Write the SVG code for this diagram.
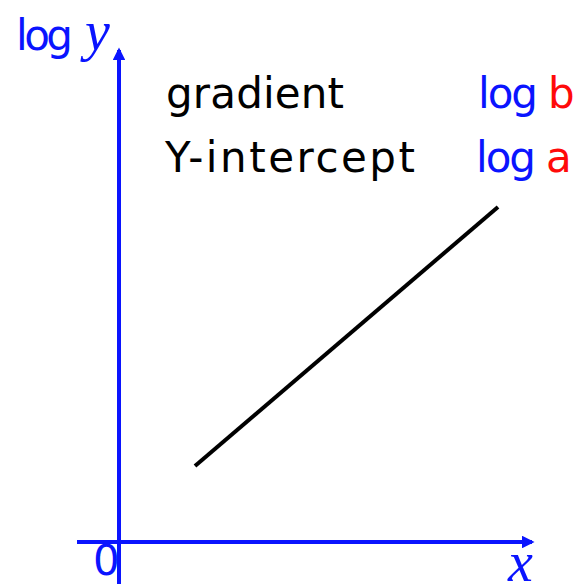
<svg xmlns="http://www.w3.org/2000/svg" width="587" height="584" viewBox="0 0 587 584">
<defs>
<style>
.ax{stroke:#0a14ff;stroke-width:4;fill:none}
.s{font-family:"DejaVu Sans","Liberation Sans",sans-serif;font-size:42px}
.it{font-family:"Liberation Serif",serif;font-style:italic;font-size:56px;fill:#0a14ff}
.b{fill:#0a14ff}.r{fill:#ff0a0a}.k{fill:#000}
</style>
<marker id="ah" viewBox="0 0 10 10" refX="8" refY="5" markerWidth="3.2" markerHeight="3.2" orient="auto" markerUnits="strokeWidth">
<path d="M0,0 L10,5 L0,10 z" fill="#0a14ff"/>
</marker>
</defs>
<rect width="587" height="584" fill="#fff"/>
<g id="connectors">
<line id="y-axis" class="ax" x1="119" y1="584" x2="119" y2="50" marker-end="url(#ah)"/>
<line id="x-axis" class="ax" x1="77" y1="542" x2="532" y2="542" marker-end="url(#ah)"/>
<line id="graph-line" x1="195" y1="466" x2="498" y2="207" stroke="#000" stroke-width="4"/>
</g>
<g id="label-logy"><text class="s b" x="16" y="50" textLength="57">log</text><text class="it" x="85" y="50">y</text></g>
<g id="label-0"><text class="s b" x="93" y="575" font-size="34">0</text></g>
<g id="label-x"><text class="it" x="508" y="581">x</text></g>
<g id="label-gradient"><text class="s k" x="166" y="108" textLength="178">gradient</text></g>
<g id="label-intercept"><text class="s k" x="165" y="172" textLength="250">Y-intercept</text></g>
<g id="label-logb"><text class="s b" x="478" y="108" textLength="60">log</text><text class="s r" x="548" y="108">b</text></g>
<g id="label-loga"><text class="s b" x="476" y="172" textLength="60">log</text><text class="s r" x="546" y="172">a</text></g>
</svg>
